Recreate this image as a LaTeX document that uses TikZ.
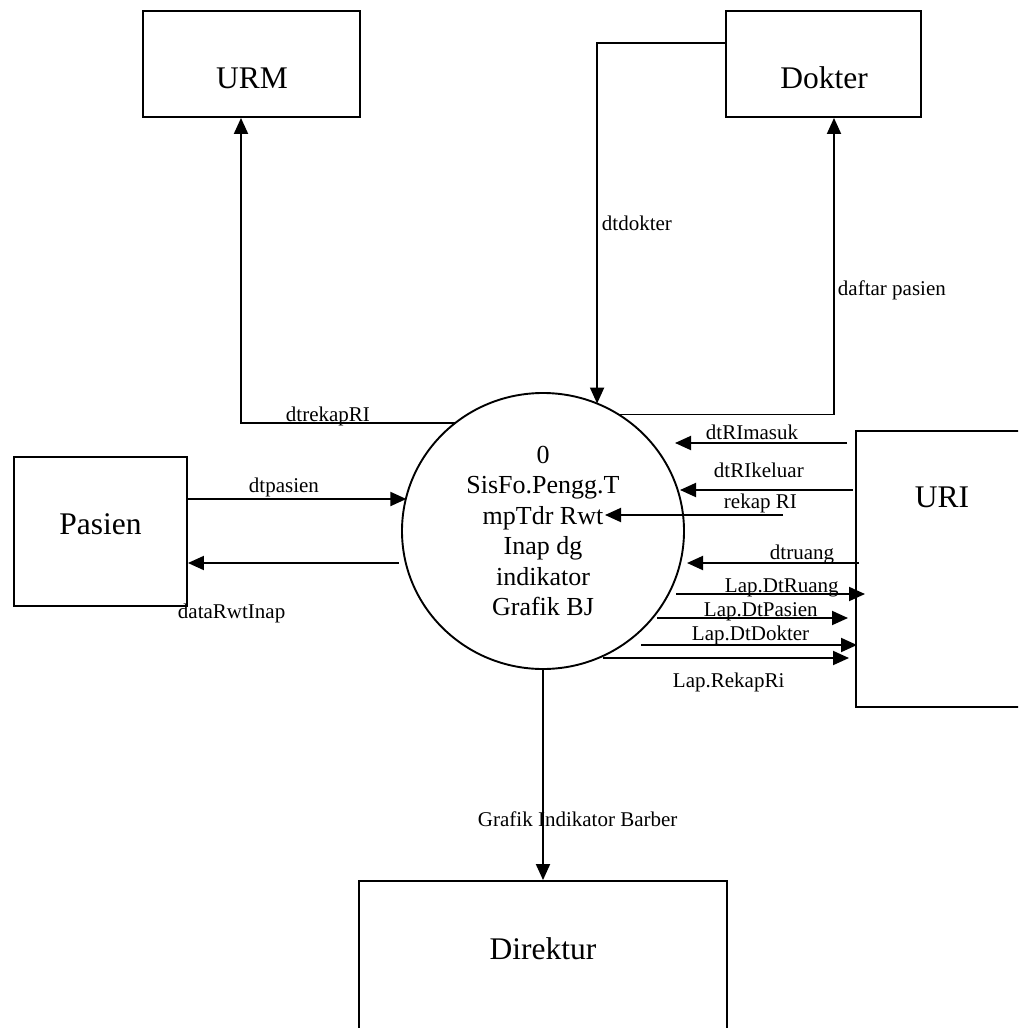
\documentclass[tikz,border=0pt]{standalone}
\usepackage{fontspec}
\setmainfont{Liberation Serif}
\usetikzlibrary{arrows.meta,shapes.geometric}
\begin{document}
\begin{tikzpicture}[x=1pt,y=-1pt,
  line width=1.9pt,
  entity/.style={draw,rectangle,inner sep=0pt,line width=1.9pt},
  ename/.style={anchor=base,font=\fontsize{31.5}{36}\selectfont,inner sep=0pt},
  flow/.style={-{Triangle[length=16pt,width=14pt]}},
  flowlabel/.style={anchor=base west,font=\fontsize{21}{24}\selectfont,inner sep=0pt},
]
\useasboundingbox (0,0) rectangle (1018,1028);
\fill[white] (0,0) rectangle (1018,1028);
\clip (0,0) rectangle (1018,1028);

% external entities
\node[entity,minimum width=217pt,minimum height=106pt] (urm) at (251.5,64) {};
\node[entity,minimum width=195pt,minimum height=106pt] (dok) at (823.5,64) {};
\node[entity,minimum width=173pt,minimum height=149pt] (pas) at (100.5,531.5) {};
\node[entity,minimum width=184pt,minimum height=276pt] (uri) at (948,569) {};
\node[entity,minimum width=368pt,minimum height=179pt] (dir) at (543,970.5) {};

\node[ename] (urmT) at (252,88) {URM};
\node[ename] (dokT) at (824,88) {Dokter};
\node[ename] (pasT) at (100.5,534) {Pasien};
\node[ename] (uriT) at (942,507) {URI};
\node[ename] (dirT) at (543,959) {Direktur};

% the process
\node[draw,ellipse,minimum width=282pt,minimum height=276pt,inner sep=0pt,outer sep=0pt,
      align=center,font=\fontsize{26}{30.4}\selectfont] (P) at (543,531)
  {0\\SisFo.Pengg.T\\mpTdr Rwt\\Inap dg\\indikator\\Grafik BJ};

% flows to URM, Dokter, Pasien and Direktur
\coordinate (pasOut) at ([yshift=32.5pt]pas.east);
\coordinate (pasIn) at ([yshift=-31.5pt]pas.east);
\coordinate (rwtStart) at ([xshift=-6.8pt]P.193.1);
\draw[flow] (P.129.2) -| ([xshift=-10.5pt]urm.south);
\draw[flow] ([yshift=21pt]dok.west) -| (P.67);
\draw[flow] (P.57.4) -| ([xshift=10.5pt]dok.south);
\draw[flow] (pasOut) -- (pasOut -| P.166.9);
\draw[flow] (rwtStart |- pasIn) -- (pasIn);
\draw[flow] (P.south) -- (dir.north);

\node[flowlabel] (lRekap) at (285,421.5) {dtrekapRI};
\node[flowlabel] (lDok) at (601,230) {dtdokter};
\node[flowlabel] (lDaftar) at (837,295) {daftar pasien};
\node[flowlabel] (lPas) at (248,492.5) {dtpasien};
\node[flowlabel] (lRwt) at (177,618) {dataRwtInap};
\node[flowlabel] (lGraf) at (477,826) {Grafik Indikator Barber};

% flows between URI and the process
\coordinate (masukS) at (847,443);  \coordinate (masukE) at (675,443);
\coordinate (keluarS) at (853,490); \coordinate (keluarE) at (680,490);
\coordinate (rekapS) at (783,515);  \coordinate (rekapE) at (605,515);
\coordinate (ruangS) at (859,563);  \coordinate (ruangE) at (687,563);
\coordinate (lapRS) at (676,594);   \coordinate (lapRE) at (865,594);
\coordinate (lapPS) at (657,618);   \coordinate (lapPE) at (848,618);
\coordinate (lapDS) at (641,645);   \coordinate (lapDE) at (857,645);
\coordinate (lapKS) at (603,658);   \coordinate (lapKE) at (849,658);

\draw[flow] (masukS) -- (masukE);
\draw[flow] (keluarS) -- (keluarE);
\draw[flow] (rekapS) -- (rekapE);
\draw[flow] (ruangS) -- (ruangE);
\draw[flow] (lapRS) -- (lapRE);
\draw[flow] (lapPS) -- (lapPE);
\draw[flow] (lapDS) -- (lapDE);
\draw[flow] (lapKS) -- (lapKE);

\node[flowlabel] (lMasuk) at (705,439) {dtRImasuk};
\node[flowlabel] (lKeluar) at (713,477) {dtRIkeluar};
\node[flowlabel] (lRekapRI) at (723,508) {rekap RI};
\node[flowlabel] (lRuang) at (769,559) {dtruang};
\node[flowlabel] (lLapR) at (724,592) {Lap.DtRuang};
\node[flowlabel] (lLapP) at (703,616) {Lap.DtPasien};
\node[flowlabel] (lLapD) at (691,640) {Lap.DtDokter};
\node[flowlabel] (lLapK) at (672,687) {Lap.RekapRi};
\end{tikzpicture}
\end{document}
